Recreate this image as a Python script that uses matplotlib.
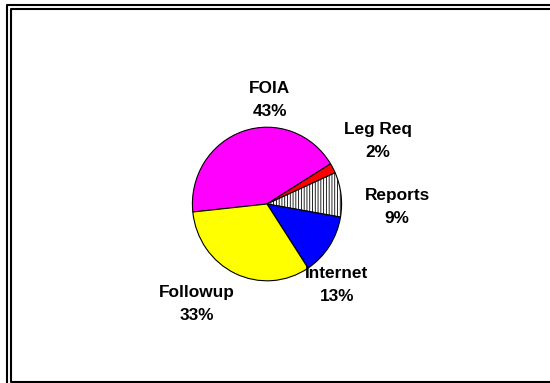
import matplotlib.pyplot as plt

# Data
categories = ["FOIA", "Leg Req", "Reports", "Internet", "Followup"]
shares = [42.9, 2.1, 9.4, 13.0, 32.6]
colors = ["#FF00FF", "#FF0000", "#FFFFFF", "#0000FF", "#FFFF00"]
hatches = [None, None, "||||||", None, None]

# label placement (data units, pie radius = 1)
label_pos = [(0.04, 1.354), (1.488, 0.82), (1.743, -0.04), (0.938, -1.055), (-0.938, -1.302)]

plt.rcParams['font.family'] = ['Liberation Sans', 'DejaVu Sans']
plt.rcParams['hatch.linewidth'] = 0.6

fig = plt.figure(figsize=(5.5, 3.83), dpi=100)
fig.patch.set_facecolor('white')

# pie axes, slightly taller than wide like the original
ax = fig.add_axes([0.2142, 0.0663, 0.5425, 0.8021])
wedges, _ = ax.pie(shares, colors=colors, startangle=186, counterclock=False,
                   wedgeprops=dict(edgecolor='black', linewidth=0.8))
for w, h in zip(wedges, hatches):
    if h:
        w.set_hatch(h)

ax.set_aspect('auto')
ax.set_xlim(-2, 2)
ax.set_ylim(-2, 2)
ax.axis('off')

total = sum(shares)
for name, val, (x, y) in zip(categories, shares, label_pos):
    ax.text(x, y, f"{name}\n{round(val / total * 100)}%", ha='center', va='center',
            fontsize=12.4, fontweight='bold', linespacing=1.6)

# double frame around the chart
frame = fig.add_axes([0, 0, 1, 1], zorder=-1)
frame.set_xlim(0, 550)
frame.set_ylim(383, 0)
frame.axis('off')
lw = 1.5
frame.plot([6.8, 6.8, 560], [400, 4.8, 4.8], color='black', lw=lw, clip_on=False)
frame.plot([560, 10.8, 10.8, 560], [8.8, 8.8, 381.5, 381.5], color='black', lw=lw, clip_on=False)

fig.savefig('out.png', dpi=100)
